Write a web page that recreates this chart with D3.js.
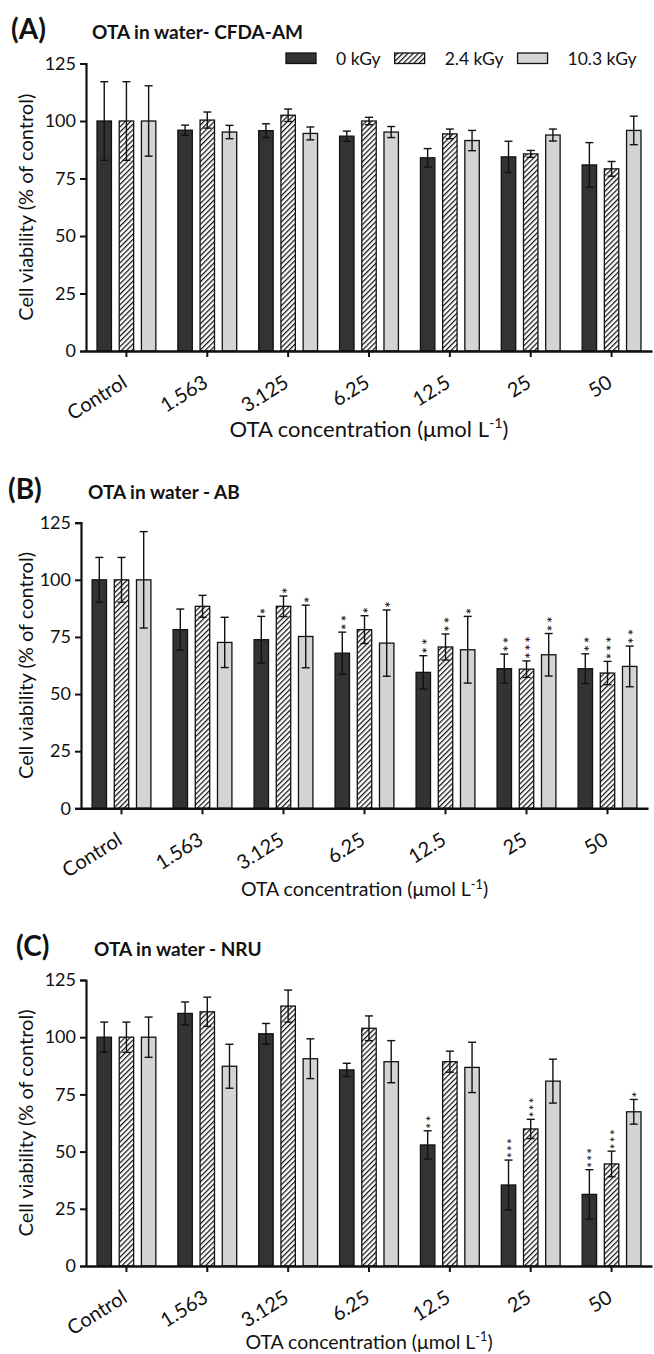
<!DOCTYPE html>
<html><head><meta charset="utf-8">
<script src="https://cdn.jsdelivr.net/npm/d3@7"></script>
<style>
body{margin:0;background:#fff}
svg{display:block}
text{font-family:Lato,"Open Sans",sans-serif;fill:#111}
</style>
</head><body>
<svg id="c" width="654" height="1354"></svg>
<script>
// ---------- data ----------
const categories = ["Control","1.563","3.125","6.25","12.5","25","50"];
const seriesNames = ["0 kGy","2.4 kGy","10.3 kGy"];
const yTickValues = [0,25,50,75,100,125];

// Panel A: CFDA-AM
const aDark    = [100, 96.0, 95.8, 93.4, 84.0, 84.4, 80.9];
const aDarkErr = [17.1, 2.2, 3.0, 2.2, 4.0, 6.8, 9.7];
const aHatch    = [100, 100.4, 102.5, 100.0, 94.4, 85.7, 79.2];
const aHatchErr = [17.1, 3.5, 2.7, 1.6, 2.1, 1.5, 3.2];
const aLight    = [100, 95.2, 94.6, 95.2, 91.5, 93.9, 95.9];
const aLightErr = [15.3, 2.9, 2.8, 2.4, 4.4, 2.6, 6.2];
const aStarsDark  = [0,0,0,0,0,0,0];
const aStarsHatch = [0,0,0,0,0,0,0];
const aStarsLight = [0,0,0,0,0,0,0];

// Panel B: AB
const bDark    = [100, 78.2, 73.8, 67.9, 59.5, 61.1, 61.1];
const bDarkErr = [9.8, 9.0, 10.2, 9.2, 7.3, 6.4, 6.5];
const bHatch    = [100, 88.4, 88.4, 78.2, 70.6, 60.9, 59.2];
const bHatchErr = [9.8, 4.8, 4.5, 6.1, 5.7, 3.6, 5.1];
const bLight    = [100, 72.6, 75.2, 72.3, 69.4, 67.2, 62.1];
const bLightErr = [21.1, 11.0, 13.7, 14.5, 14.6, 9.3, 8.9];
const bStarsDark  = [0,0,1,2,2,2,2];
const bStarsHatch = [0,0,1,1,2,3,3];
const bStarsLight = [0,0,1,1,1,2,2];

// Panel C: NRU
const cDark    = [100, 110.4, 101.5, 85.7, 52.9, 35.4, 31.3];
const cDarkErr = [6.6, 5.0, 4.5, 2.9, 6.2, 10.9, 10.8];
const cHatch    = [100, 111.1, 113.6, 103.9, 89.3, 59.9, 44.6];
const cHatchErr = [6.6, 6.4, 7.0, 5.4, 4.6, 4.2, 5.6];
const cLight    = [100, 87.3, 90.6, 89.3, 86.8, 80.8, 67.4];
const cLightErr = [8.8, 9.6, 8.7, 9.2, 11.0, 9.6, 5.4];
const cStarsDark  = [0,0,0,0,2,3,3];
const cStarsHatch = [0,0,0,0,0,3,3];
const cStarsLight = [0,0,0,0,0,0,1];

const panelLetters = ["(A)","(B)","(C)"];
const panelTitles = ["OTA in water- CFDA-AM","OTA in water - AB","OTA in water - NRU"];
const yTitle = "Cell viability (% of control)";
const xTitleMain = "OTA concentration (\u03bcmol L";
const xTitleSup = "-1";

// ---------- layout ----------
const panels = [
  {left:86, right:652, top:63.5, bottom:351, letterX:11, titleX:92, titleY:39, xTitleSize:22, xTitleDy:86,
   vals:[aDark,aHatch,aLight], errs:[aDarkErr,aHatchErr,aLightErr], stars:[aStarsDark,aStarsHatch,aStarsLight], legend:true, starSize:16, starGap:7.7},
  {left:81, right:648, top:522.7, bottom:808.3, letterX:8, titleX:88, titleY:499, xTitleSize:19.5, xTitleDy:88,
   vals:[bDark,bHatch,bLight], errs:[bDarkErr,bHatchErr,bLightErr], stars:[bStarsDark,bStarsHatch,bStarsLight], legend:false, starSize:16, starGap:7.7},
  {left:86, right:652, top:980, bottom:1266, letterX:16, titleX:94, titleY:956, xTitleSize:19.5, xTitleDy:83,
   vals:[cDark,cHatch,cLight], errs:[cDarkErr,cHatchErr,cLightErr], stars:[cStarsDark,cStarsHatch,cStarsLight], legend:false, starSize:13.5, starGap:6.6}
];

const svg = d3.select("#c");
svg.append("rect").attr("width",654).attr("height",1354).attr("fill","#fff");

const defs = svg.append("defs");
const pat = defs.append("pattern").attr("id","hatch").attr("patternUnits","userSpaceOnUse")
  .attr("width",3.7).attr("height",3.7).attr("patternTransform","rotate(45)");
pat.append("rect").attr("width",3.7).attr("height",3.7).attr("fill","#fff");
pat.append("line").attr("x1",0.6).attr("y1",0).attr("x2",0.6).attr("y2",3.7)
  .attr("stroke","#111").attr("stroke-width",1.25);

const fills = ["#333333","url(#hatch)","#d4d4d4"];

panels.forEach((p,pi)=>{
  const g = svg.append("g");
  const x0 = d3.scaleBand().domain(categories).range([p.left,p.right]).paddingInner(0).paddingOuter(0);
  const step = 22.2;
  const x1 = d3.scaleBand().domain(seriesNames).range([-1.5*step,1.5*step]).paddingInner(0.35).paddingOuter(0.175);
  const y = d3.scaleLinear().domain([0,125]).range([p.bottom,p.top]);

  // bars
  seriesNames.forEach((s,si)=>{
    g.append("g").selectAll("rect").data(categories).join("rect")
      .attr("x",(c)=>x0(c)+x0.bandwidth()/2+x1(s))
      .attr("y",(c,i)=>y(p.vals[si][i]))
      .attr("width",x1.bandwidth())
      .attr("height",(c,i)=>y(0)-y(p.vals[si][i]))
      .attr("fill",fills[si]).attr("stroke","#111").attr("stroke-width",1.3);
  });
  // error bars and significance stars
  seriesNames.forEach((s,si)=>{
    categories.forEach((c,i)=>{
      const cx = x0(c)+x0.bandwidth()/2+x1(s)+x1.bandwidth()/2;
      const v = p.vals[si][i], e = p.errs[si][i];
      const eg = g.append("g").attr("stroke","#111").attr("stroke-width",1.4);
      eg.append("line").attr("x1",cx).attr("x2",cx).attr("y1",y(v-e)).attr("y2",y(v+e));
      eg.append("line").attr("x1",cx-4).attr("x2",cx+4).attr("y1",y(v+e)).attr("y2",y(v+e));
      eg.append("line").attr("x1",cx-4).attr("x2",cx+4).attr("y1",y(v-e)).attr("y2",y(v-e));
      const n = p.stars[si][i];
      if(n>0){
        const st = "*".repeat(n);
        const t = g.append("text")
          .attr("transform",`translate(${cx},${y(v+e)-2}) rotate(-90)`)
          .attr("x",0).attr("y",0).attr("dy",p.starSize*0.6)
          .attr("text-anchor","start").attr("font-family","DejaVu Sans")
          .attr("font-size",p.starSize).text(st);
        if(n>1) t.attr("textLength",n*p.starGap).attr("lengthAdjust","spacing");
      }
    });
  });

  // y axis
  const yAxis = d3.axisLeft(y).tickValues(yTickValues).tickSize(6).tickPadding(4);
  const ya = g.append("g").attr("transform",`translate(${p.left},0)`).call(yAxis);
  ya.select(".domain").attr("stroke","#111").attr("stroke-width",2.2);
  ya.selectAll(".tick line").attr("stroke","#111").attr("stroke-width",2);
  ya.selectAll(".tick text").attr("font-size",18).attr("font-family","Lato").attr("fill","#111");

  // x axis
  const xAxis = d3.axisBottom(x0).tickSize(6).tickSizeOuter(0).tickFormat("");
  const xa = g.append("g").attr("transform",`translate(0,${p.bottom})`).call(xAxis);
  xa.select(".domain").attr("stroke","#111").attr("stroke-width",2.6);
  xa.selectAll(".tick line").attr("stroke","#111").attr("stroke-width",2);
  categories.forEach(c=>{
    const tx = x0(c)+x0.bandwidth()/2;
    g.append("text").attr("text-anchor","end").attr("font-size",20)
      .attr("transform",`translate(${tx+2},${p.bottom+35}) rotate(-32)`).text(c);
  });

  // titles
  g.append("text").attr("x",p.letterX).attr("y",p.titleY).attr("font-size",28).attr("font-weight",700).text(panelLetters[pi]);
  g.append("text").attr("x",p.titleX).attr("y",p.titleY).attr("font-size",19).attr("font-weight",700).text(panelTitles[pi]);

  // y title
  g.append("text").attr("text-anchor","middle").attr("font-size",20)
    .attr("transform",`translate(33,${(p.top+p.bottom)/2}) rotate(-90)`).text(yTitle);

  // x title
  const xt = g.append("text").attr("text-anchor","middle").attr("font-size",p.xTitleSize)
    .attr("x",(p.left+p.right)/2).attr("y",p.bottom+p.xTitleDy);
  xt.append("tspan").text(xTitleMain);
  xt.append("tspan").attr("font-size",p.xTitleSize*0.65).attr("dy",-p.xTitleSize*0.4).text(xTitleSup);
  xt.append("tspan").attr("dy",p.xTitleSize*0.4).text(")");

  // legend
  if(p.legend){
    let lx = 286;
    const ly = 53;
    seriesNames.forEach((s,si)=>{
      g.append("rect").attr("x",lx).attr("y",ly).attr("width",30).attr("height",10.5)
        .attr("fill",fills[si]).attr("stroke","#111").attr("stroke-width",1.3);
      const t = g.append("text").attr("x",lx+50).attr("y",ly+11.5).attr("font-size",17.5).text(s);
      lx = lx + 50 + t.node().getComputedTextLength() + 14;
    });
  }
});
</script>
</body></html>
